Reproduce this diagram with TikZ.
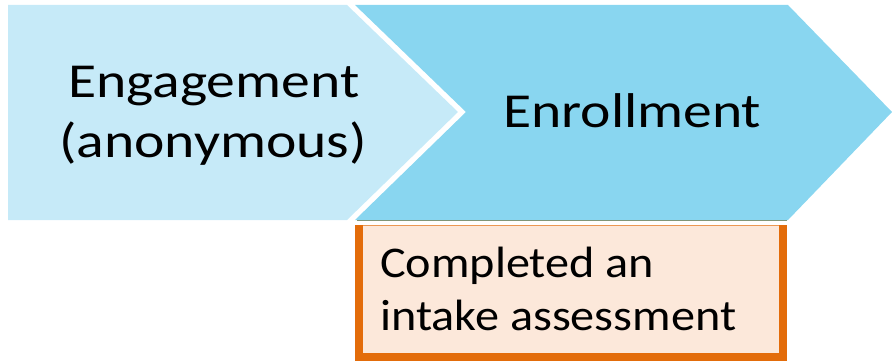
\documentclass[tikz,border=0pt]{standalone}
\usepackage{fontspec}
\setmainfont{Carlito}
\usetikzlibrary{calc}
\definecolor{lightcyan}{RGB}{198,234,248}
\definecolor{skycyan}{RGB}{137,214,240}
\definecolor{peach}{RGB}{252,232,218}
\definecolor{darkorange}{RGB}{227,108,10}
\definecolor{shadowline}{RGB}{128,150,120}
\tikzset{bigtext/.style={font=\fontsize{49}{60}\selectfont,inner sep=0pt,anchor=base west,xscale=1.18,transform shape},
	boxtext/.style={font=\fontsize{44}{53}\selectfont,inner sep=0pt,anchor=base west,xscale=1.1,transform shape}}

\begin{document}
\begin{tikzpicture}[x=1bp,y=1bp]
		\useasboundingbox (0,0) rectangle (892,361);
		
		% Draw the two chevrons
		\fill[lightcyan] (8,356) -- (347,356) -- (458,249) -- (347,141) -- (8,141) -- cycle;
		\fill[skycyan] (355,356) -- (788,356) -- (892,249) -- (788,141) -- (355,141) -- (466,249) -- cycle;
		\draw[shadowline,line width=1bp] (357,140.5) -- (787,140.5);
		
		\node[bigtext] (engage) at (68,264) {Engagement};
		\node[bigtext] (anon) at (59,204) {(anonymous)};
		\node[bigtext] (enroll) at (503,234) {Enrollment};
		
		% Draw the intake box below
		\fill[peach] (355,1) rectangle (787,136);
		\draw[darkorange!70,line width=1.5bp] (355,135.5) -- (787,135.5);
		\draw[darkorange,line width=8bp] (359,136) -- (359,4) -- (783,4) -- (783,136);
		
		\node[boxtext] (completed) at (380,84) {Completed an};
		\node[boxtext] (intake) at (380,31) {intake assessment};
	\end{tikzpicture}
\end{document}
